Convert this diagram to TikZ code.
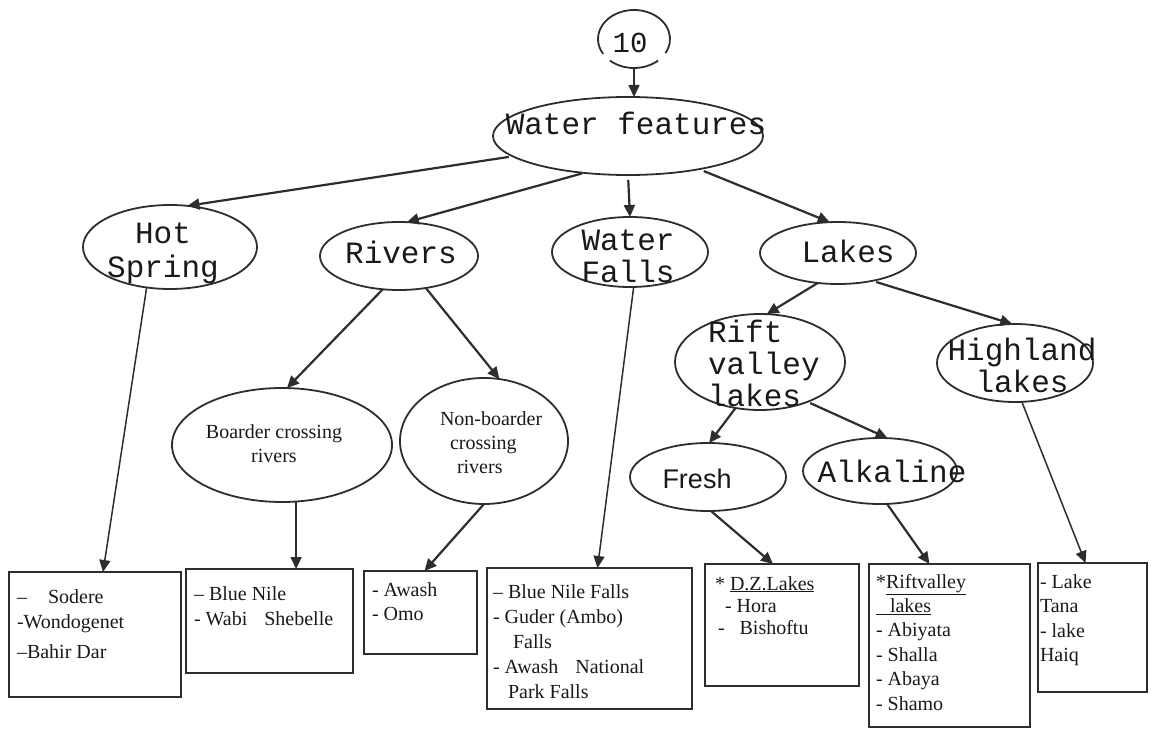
\documentclass[tikz,border=0pt]{standalone}
\usepackage{fontspec}
\setmainfont{Liberation Serif}
\newfontfamily\monofam{Liberation Mono}
\newfontfamily\sansfam{Liberation Sans}
\usetikzlibrary{shapes.geometric,arrows.meta}
\definecolor{linec}{RGB}{45,45,45}
\definecolor{txtc}{RGB}{25,25,25}
\begin{document}
\begin{tikzpicture}[x=1pt,y=-1pt,
  every node/.style={inner sep=0pt, outer sep=0pt, text=txtc},
  ell/.style={draw=linec, line width=1.8pt, ellipse},
  box/.style={draw=linec, line width=1.8pt, rectangle},
  arr/.style={draw=linec, line width=2.2pt, -{Triangle[length=12pt,width=11pt]}},
  thinarr/.style={draw=linec, line width=1.5pt, -{Triangle[length=12pt,width=11pt]}},
  mlab/.style={font=\monofam\fontsize{31}{33}\selectfont, anchor=base},
  slab/.style={font=\fontsize{20}{24}\selectfont, anchor=base},
  blab/.style={font=\fontsize{20}{25}\selectfont, anchor=base west, align=left}]
\useasboundingbox (0,0) rectangle (1155,730);

% ---- ellipses ----
\node[ellipse, minimum width=72, minimum height=58] (ten) at (634,39) {};
\draw[linec, line width=1.8pt] (ten.center) ++(29:36 and 29)
  arc[start angle=29, end angle=-211, x radius=36, y radius=29];
\draw[linec, line width=1.8pt] (ten.center) ++(132:36 and 29)
  arc[start angle=132, end angle=48, x radius=36, y radius=29];
\node[ell, minimum width=270, minimum height=78] (wf) at (628,136) {};
\node[ell, minimum width=174, minimum height=84] (hs) at (170,247) {};
\node[ell, minimum width=158, minimum height=68] (rv) at (399,256) {};
\node[ell, minimum width=156, minimum height=70] (wfa) at (630,252) {};
\node[ell, minimum width=156, minimum height=62] (lk) at (838,253) {};
\node[ell, minimum width=220, minimum height=114] (bc) at (282,445) {};
\node[ell, minimum width=168, minimum height=126] (nb) at (484,441) {};
\node[ell, minimum width=170, minimum height=96] (rift) at (760,362) {};
\node[ell, minimum width=156, minimum height=78] (hl) at (1015,363) {};
\node[ell, minimum width=156, minimum height=68] (fr) at (708,477) {};
\node[ell, minimum width=154, minimum height=66] (alk) at (880,471) {};

% ---- boxes ----
\node[box, minimum width=172, minimum height=125] (b1) at (95,634.5) {};
\node[box, minimum width=167, minimum height=104] (b2) at (269.5,621) {};
\node[box, minimum width=113, minimum height=83] (b3) at (420.5,612.5) {};
\node[box, minimum width=205, minimum height=141] (b4) at (589.5,638.5) {};
\node[box, minimum width=154, minimum height=122] (b5) at (782,625) {};
\node[box, minimum width=161, minimum height=163] (b6) at (949.5,645.5) {};
\node[box, minimum width=109, minimum height=129] (b7) at (1092.5,627.5) {};

% ---- ellipse labels (multi-line labels sit on their last baseline) ----
\node[mlab, font=\monofam\fontsize{29}{29}\selectfont] (ten-t) at (630,53) {10};
\node[mlab] (wf-t) at (636,135) {Water features};
\node[mlab, align=center, font=\monofam\fontsize{31}{34}\selectfont] (hs-t) at (163,277) {Hot\\Spring};
\node[mlab] (rv-t) at (401,263) {Rivers};
\node[mlab, align=center, font=\monofam\fontsize{31}{32}\selectfont] (wfa-t) at (628,282) {Water\\Falls};
\node[mlab] (lk-t) at (848,262) {Lakes};
\node[mlab, align=left, anchor=base west, font=\monofam\fontsize{31}{32}\selectfont] (rift-t) at (708,406) {Rift\\valley\\lakes};
\node[mlab, align=center, font=\monofam\fontsize{31}{32}\selectfont] (hl-t) at (1022,392) {Highland\\lakes};
\node[mlab] (alk-t) at (892,482) {Alkaline};
\node[anchor=base, font=\sansfam\fontsize{27}{27}\selectfont] (fr-t) at (697,488) {Fresh};
\node[slab, align=center] (bc-t) at (274,462) {Boarder crossing\\rivers};
\node[slab, align=left, anchor=base west] (nb-t) at (440,473)
  {Non-boarder\\\hspace*{10pt}crossing\\\hspace*{17pt}rivers};

% ---- box labels ----
\node[blab] (b1-t) at (17,658)
  {\textendash\hspace{21pt}Sodere\\-Wondogenet\\[5pt]\textendash Bahir Dar};
\node[blab] (b2-t) at (194,625) {\textendash\ Blue Nile\\- Wabi\hspace{12pt} Shebelle};
\node[blab, font=\fontsize{20}{24}\selectfont] (b3-t) at (372,620) {- Awash\\- Omo};
\node[blab] (b4-t) at (493,698)
  {\textendash\ Blue Nile Falls\\- Guder (Ambo)\\\hspace*{20pt}Falls\\- Awash\hspace{12pt} National\\\hspace*{15pt}Park Falls};
\node[blab, font=\fontsize{20}{22}\selectfont] (b5-t) at (715,634)
  {* \underline{D.Z.Lakes}\\\hspace*{10pt}- Hora\\\hspace*{3pt}-\hspace{15pt}Bishoftu};
\node[blab, font=\fontsize{20}{24.4}\selectfont] (b6-t) at (876,710)
  {*\underline{Riftvalley}\\\underline{\hspace*{14pt}lakes}\\- Abiyata\\- Shalla\\- Abaya\\- Shamo};
\node[blab, font=\fontsize{20}{24.5}\selectfont] (b7-t) at (1040,661.5) {- Lake\\Tana\\- lake\\Haiq};

% ---- connectors ----
\draw[arr, line width=1.6pt] (ten.south) -- (ten.south |- wf.north);
\draw[arr, shorten <=4pt] (wf.190) -- (hs.67);
\draw[arr, shorten <=2pt] (wf.220) -- (rv.77);
\draw[arr, shorten <=5pt] (wf.south) -- (wfa.north);
\draw[arr, shorten <=5pt] (wf.335) -- (lk.105);
\draw[arr] (rv.244) -- (bc.85);
\draw[arr] (rv.310) -- (nb.76);
\draw[thinarr] (hs.240) -- ([xshift=8pt]b1.north);
\draw[thinarr] (wfa.276) -- ([xshift=8pt]b4.north);
\draw[thinarr] (bc.284) -- (bc.284 |- b2.north);
\draw[arr] (nb.south) -- ([xshift=4pt]b3.north);
\draw[arr] (lk.236) -- (rift.82);
\draw[arr, shorten <=4pt] (lk.321) -- (hl.94);
\draw[arr] (rift.242) -- (fr.88);
\draw[arr, shorten <=3pt] (rift.320) -- (alk.77);
\draw[thinarr] (hl.280) -- ([xshift=-7pt]b7.north);
\draw[arr] (fr.275) -- ([xshift=-9pt]b5.north);
\draw[arr] (alk.282) -- ([xshift=-20pt]b6.north);
\end{tikzpicture}
\end{document}
